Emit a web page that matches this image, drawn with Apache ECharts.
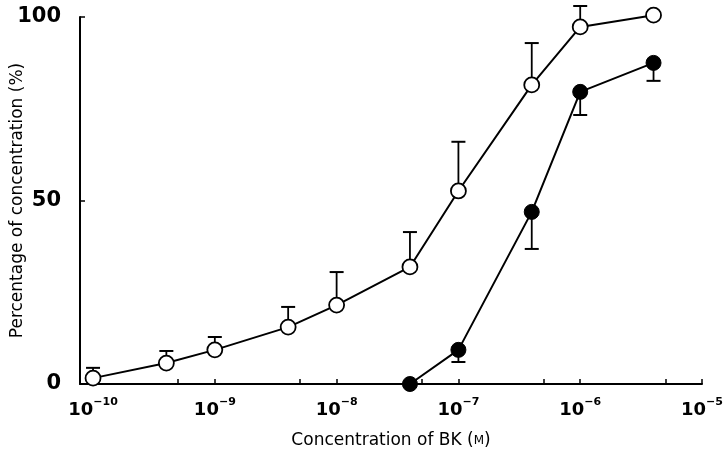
<!DOCTYPE html>
<html>
<head>
<meta charset="utf-8">
<script src="https://cdn.jsdelivr.net/npm/echarts@6/dist/echarts.min.js"></script>
<style>html,body{margin:0;padding:0;background:#fff}#c{width:723px;height:453px}</style>
</head>
<body>
<div id="c"></div>
<script>
// Concentrations (M) and responses (%)
const concOpen = [1e-10, 4e-10, 1e-9, 4e-9, 1e-8, 4e-8, 1e-7, 4e-7, 1e-6, 4e-6];
const pctOpen = [1.6, 5.7, 9.3, 15.5, 21.5, 31.9, 52.6, 81.5, 97.3, 100.5];
const errOpenTop = [4.4, 9.0, 12.8, 21, 30.5, 41.4, 66, 92.9, 103, null];
const concFilled = [4e-8, 1e-7, 4e-7, 1e-6, 4e-6];
const pctFilled = [0, 9.3, 46.9, 79.6, 87.5];
const errFilledBottom = [null, 6, 36.8, 73.3, 82.6];
const xMajorExp = [-10, -9, -8, -7, -6, -5];
const xMinorConc = [5e-10, 5e-9, 5e-8, 5e-7, 5e-6];
const yTicks = [0, 50, 100];

const lg = v => Math.log10(v);
const openData = concOpen.map((c, i) => [lg(c), pctOpen[i]]);
const filledData = concFilled.map((c, i) => [lg(c), pctFilled[i]]);
const openErr = concOpen.map((c, i) => [lg(c), pctOpen[i], errOpenTop[i]]).filter(d => d[2] != null);
const filledErr = concFilled.map((c, i) => [lg(c), pctFilled[i], errFilledBottom[i]]).filter(d => d[2] != null);
const tickVals = xMajorExp.concat(xMinorConc.map(lg));

function errItem(params, api) {
  const p0 = api.coord([api.value(0), api.value(1)]);
  const p1 = api.coord([api.value(0), api.value(2)]);
  const hw = 7;
  return {
    type: 'group',
    children: [
      {type: 'line', shape: {x1: p0[0], y1: p0[1], x2: p1[0], y2: p1[1]}, style: {stroke: '#000', lineWidth: 1.8}},
      {type: 'line', shape: {x1: p1[0] - hw, y1: p1[1], x2: p1[0] + hw, y2: p1[1]}, style: {stroke: '#000', lineWidth: 2}}
    ]
  };
}

const F = 'DejaVu Sans';
const chart = echarts.init(document.getElementById('c'), null, {renderer: 'canvas'});
chart.setOption({
  animation: false,
  backgroundColor: '#fff',
  grid: {left: 80, right: 21, top: 17, bottom: 69, containLabel: false, outerBoundsMode: 'none'},
  xAxis: {
    type: 'value',
    min: -10.107,
    max: -5,
    splitLine: {show: false},
    axisLine: {show: true, lineStyle: {color: '#000', width: 2}},
    axisTick: {show: true, inside: true, length: 5, customValues: tickVals, lineStyle: {color: '#000', width: 1.5}},
    axisLabel: {
      customValues: xMajorExp,
      margin: 13,
      formatter: v => '{b|10}{s|−' + Math.abs(Math.round(v)) + '}',
      rich: {
        b: {fontFamily: F, fontSize: 18, fontWeight: 'bold', color: '#000', verticalAlign: 'bottom', lineHeight: 22},
        s: {fontFamily: F, fontSize: 11, fontWeight: 'bold', color: '#000', verticalAlign: 'top', lineHeight: 22, padding: [0, 0, 8, 0]}
      }
    },
    name: '{t|Concentration of BK (}{m|M}{t|)}',
    nameLocation: 'middle',
    nameGap: 48,
    nameMoveOverlap: false,
    nameTextStyle: {
      rich: {
        t: {fontFamily: F, fontSize: 17, color: '#000'},
        m: {fontFamily: F, fontSize: 12, color: '#000'}
      }
    }
  },
  yAxis: {
    type: 'value',
    min: 0,
    max: 100,
    interval: 50,
    splitLine: {show: false},
    axisLine: {show: true, lineStyle: {color: '#000', width: 2}},
    axisTick: {show: true, inside: true, length: 5, lineStyle: {color: '#000', width: 1.5}},
    axisLabel: {fontFamily: F, fontSize: 21, fontWeight: 'bold', color: '#000', margin: 19},
    name: 'Percentage of concentration (%)',
    nameLocation: 'middle',
    nameGap: 54,
    nameMoveOverlap: false,
    nameTextStyle: {fontFamily: F, fontSize: 17, color: '#000'}
  },
  series: [
    {type: 'custom', renderItem: errItem, data: openErr, z: 1, clip: false, encode: {x: 0, y: [1, 2]}},
    {type: 'custom', renderItem: errItem, data: filledErr, z: 1, clip: false, encode: {x: 0, y: [1, 2]}},
    {
      type: 'line', data: openData, z: 3, clip: false,
      symbol: 'circle', symbolSize: 15,
      lineStyle: {color: '#000', width: 2},
      itemStyle: {color: '#fff', borderColor: '#000', borderWidth: 1.8}
    },
    {
      type: 'line', data: filledData, z: 3, clip: false,
      symbol: 'circle', symbolSize: 15,
      lineStyle: {color: '#000', width: 2},
      itemStyle: {color: '#000', borderColor: '#000', borderWidth: 1}
    }
  ]
});
</script>
</body>
</html>
